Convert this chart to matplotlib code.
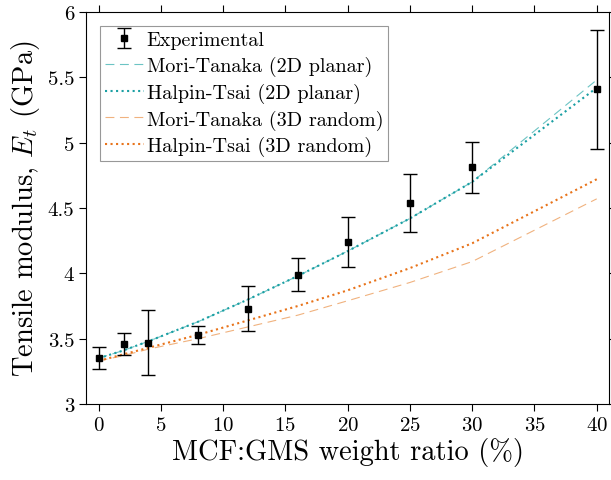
import matplotlib
matplotlib.use("Agg")
import matplotlib.pyplot as plt

plt.rcParams['font.family'] = 'serif'
plt.rcParams['font.serif'] = ['cmr10']
plt.rcParams['mathtext.fontset'] = 'cm'
plt.rcParams['axes.formatter.use_mathtext'] = True

# data
ratio = [0, 2, 4, 8, 12, 16, 20, 25, 30, 40]
exp_E = [3.35, 3.46, 3.47, 3.53, 3.73, 3.99, 4.24, 4.54, 4.81, 5.41]
exp_err = [0.085, 0.085, 0.25, 0.07, 0.17, 0.125, 0.19, 0.22, 0.195, 0.455]

mt_2d = [3.35, 3.41, 3.48, 3.63, 3.80, 3.98, 4.17, 4.42, 4.70, 5.48]
ht_2d = [3.35, 3.41, 3.48, 3.63, 3.80, 3.98, 4.17, 4.42, 4.70, 5.42]
mt_3d = [3.33, 3.37, 3.42, 3.50, 3.59, 3.68, 3.79, 3.93, 4.09, 4.57]
ht_3d = [3.33, 3.38, 3.43, 3.53, 3.64, 3.75, 3.87, 4.04, 4.23, 4.72]

fig = plt.figure(figsize=(6.11, 4.81), dpi=100)
ax = fig.add_axes([0.141, 0.158, 0.856, 0.815])

h0 = ax.errorbar(ratio, exp_E, yerr=exp_err, fmt='s', color='k', ms=5, capsize=5,
                 elinewidth=1, capthick=1, label='Experimental', zorder=5)
h1, = ax.plot(ratio, mt_2d, '--', color='#6cc4c4', lw=0.8, dashes=(8, 5), label='Mori-Tanaka (2D planar)')
h2, = ax.plot(ratio, ht_2d, ':', color='#1a9fa3', lw=1.5, label='Halpin-Tsai (2D planar)')
h3, = ax.plot(ratio, mt_3d, '--', color='#f0b27f', lw=0.8, dashes=(8, 5), label='Mori-Tanaka (3D random)')
h4, = ax.plot(ratio, ht_3d, ':', color='#e8731a', lw=1.5, label='Halpin-Tsai (3D random)')

ax.set_xlim(-1, 41)
ax.set_ylim(3, 6)
ax.set_xticks(range(0, 41, 5))
ax.set_yticks([3, 3.5, 4, 4.5, 5, 5.5, 6])
ax.set_yticklabels(['3', '3.5', '4', '4.5', '5', '5.5', '6'])
ax.tick_params(direction='out', top=True, right=True, labelsize=15, length=5)
ax.set_xlabel('MCF:GMS weight ratio (%)', fontsize=20.5, labelpad=2)
ax.set_ylabel('Tensile modulus, $E_t$ (GPa)', fontsize=20.5, labelpad=4)

leg = ax.legend([h0, h1, h2, h3, h4],
                ['Experimental', 'Mori-Tanaka (2D planar)', 'Halpin-Tsai (2D planar)',
                 'Mori-Tanaka (3D random)', 'Halpin-Tsai (3D random)'],
                loc='upper left', fontsize=14.5, fancybox=False, edgecolor='#7f7f7f',
                handlelength=1.9, handletextpad=0.15, borderpad=0.25, labelspacing=0.33,
                borderaxespad=0.7)
leg.get_frame().set_linewidth(0.8)

fig.savefig('out.png', dpi=100)
